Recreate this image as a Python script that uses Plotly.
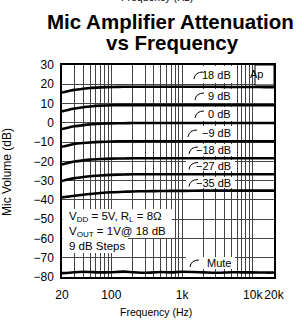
import plotly.graph_objects as go

freq = [20, 25, 30, 40, 50, 70, 100, 150, 200, 300, 500, 700, 1000, 2000, 3000, 5000, 7000, 10000, 15000, 20000]
gain_p18 = [15.7, 16.5, 17.1, 17.7, 18.1, 18.4, 18.6, 18.7, 18.7, 18.7, 18.7, 18.7, 18.7, 18.7, 18.7, 18.6, 18.6, 18.6, 18.5, 18.5]
gain_p9 = [5.9, 6.8, 7.4, 8.1, 8.5, 8.9, 9.1, 9.2, 9.2, 9.2, 9.2, 9.2, 9.2, 9.2, 9.2, 9.2, 9.2, 9.1, 9.1, 9.1]
gain_0 = [-3.2, -2.4, -1.8, -1.2, -0.8, -0.5, -0.3, -0.2, -0.1, -0.1, -0.1, -0.1, -0.1, -0.1, -0.1, -0.1, -0.1, -0.1, -0.1, -0.1]
gain_m9 = [-12.4, -11.6, -11.0, -10.5, -10.2, -9.9, -9.7, -9.6, -9.6, -9.6, -9.6, -9.6, -9.6, -9.6, -9.6, -9.6, -9.6, -9.6, -9.6, -9.6]
gain_m18 = [-21.6, -20.7, -20.1, -19.5, -19.1, -18.8, -18.6, -18.5, -18.4, -18.4, -18.4, -18.4, -18.4, -18.4, -18.4, -18.4, -18.4, -18.4, -18.4, -18.4]
gain_m27 = [-30.2, -29.3, -28.7, -28.1, -27.7, -27.3, -27.0, -26.8, -26.7, -26.7, -26.7, -26.7, -26.7, -26.7, -26.7, -26.7, -26.7, -26.7, -26.7, -26.7]
gain_m35 = [-38.7, -38.2, -37.8, -37.3, -36.9, -36.4, -36.0, -35.8, -35.6, -35.5, -35.4, -35.3, -35.3, -35.2, -35.2, -35.2, -35.2, -35.2, -35.2, -35.2]
gain_mute = [-78.0, -77.8, -77.5, -77.3, -77.4, -77.6, -77.5, -77.2, -77.5, -77.8, -77.4, -77.6, -77.3, -77.6, -77.8, -77.5, -77.6, -77.6, -77.7, -77.7]

series = [gain_p18, gain_p9, gain_0, gain_m9, gain_m18, gain_m27, gain_m35, gain_mute]
curve_labels = ["18 dB", "9 dB", "0 dB", "\u22129 dB", "\u221218 dB", "\u221227 dB", "\u221235 dB", "Mute"]

x_grid = [20, 30, 40, 50, 60, 70, 80, 90, 100, 200, 300, 400, 500, 600, 700, 800, 900,
          1000, 2000, 3000, 4000, 5000, 6000, 7000, 8000, 9000, 10000, 20000]
x_labels = {20: "20", 100: "100", 1000: "1k", 10000: "10k", 20000: "20k"}
y_ticks = [30, 20, 10, 0, -10, -20, -30, -40, -50, -60, -70, -80]

W, H = 304, 323
L, R, T, B = 62, 274, 65, 277


def px(x):
    return (x - L) / (R - L)


def py(y):
    return (B - y) / (B - T)


fig = go.Figure()
for vals in series:
    fig.add_trace(go.Scatter(x=freq, y=vals, mode="lines",
                             line=dict(color="black", width=2.6, shape="spline", smoothing=0.6),
                             hoverinfo="skip", showlegend=False))

FONT = "Liberation Sans, Arial, sans-serif"
shapes = []
annotations = []

# label boxes: (top, bottom, text center y, hook x)
boxes = [(66, 83, 75, 194), (89, 103, 96, 195), (107, 121, 114, 195), (126, 140, 133, 188),
         (144, 156, 150, 189), (160, 171, 165.5, 189), (177, 188, 182.5, 189), (257, 269, 263, 190)]
for (top, bot, cy, hx), lab in zip(boxes, curve_labels):
    shapes.append(dict(type="rect", xref="paper", yref="paper", x0=px(186), x1=px(235),
                       y0=py(bot), y1=py(top), fillcolor="white", line=dict(width=0), layer="above"))
for (top, bot, cy, hx), lab in zip(boxes, curve_labels):
    path = "M %.4f,%.4f Q %.4f,%.4f %.4f,%.4f" % (px(hx), py(cy + 4), px(hx + 1), py(cy - 3), px(hx + 9), py(cy - 3))
    shapes.append(dict(type="path", xref="paper", yref="paper", path=path,
                       line=dict(color="black", width=1), layer="above"))
    annotations.append(dict(xref="paper", yref="paper", x=px(233), y=py(cy), xanchor="right",
                            yanchor="middle", text=lab, showarrow=False,
                            font=dict(family=FONT, size=11, color="black")))

# Ap box
shapes.append(dict(type="rect", xref="paper", yref="paper", x0=px(255), x1=px(274), y0=py(85), y1=py(65),
                   fillcolor="white", line=dict(color="black", width=1), layer="above"))
annotations.append(dict(xref="paper", yref="paper", x=px(265), y=py(74), text="Ap", showarrow=False,
                        yanchor="middle", font=dict(family=FONT, size=11, color="black")))

# conditions box
shapes.append(dict(type="rect", xref="paper", yref="paper", x0=px(62.5), x1=px(172), y0=py(238), y1=py(209),
                   fillcolor="white", line=dict(width=0), layer="above"))
shapes.append(dict(type="rect", xref="paper", yref="paper", x0=px(62.5), x1=px(128), y0=py(253), y1=py(237),
                   fillcolor="white", line=dict(width=0), layer="above"))
cond_text = "V<sub>DD</sub> = 5V, R<sub>L</sub> = 8\u03a9<br>V<sub>OUT</sub> = 1V@ 18 dB<br>9 dB Steps"
annotations.append(dict(xref="paper", yref="paper", x=px(67), y=py(231), xanchor="left", yanchor="middle",
                        align="left", text=cond_text, showarrow=False,
                        font=dict(family=FONT, size=11.5, color="black")))

# titles
annotations.append(dict(xref="paper", yref="paper", x=px(170), y=py(21.5), text="<b>Mic Amplifier Attenuation</b>",
                        showarrow=False, yanchor="middle", font=dict(family=FONT, size=20.5, color="black")))
annotations.append(dict(xref="paper", yref="paper", x=px(172), y=py(43), text="<b>vs Frequency</b>",
                        showarrow=False, yanchor="middle", font=dict(family=FONT, size=20.5, color="black")))
annotations.append(dict(xref="paper", yref="paper", x=px(157), y=py(-3), text="Frequency (Hz)",
                        showarrow=False, yanchor="middle", font=dict(family=FONT, size=10.5, color="black")))
annotations.append(dict(xref="paper", yref="paper", x=px(156), y=py(312), text="Frequency (Hz)",
                        showarrow=False, yanchor="middle", font=dict(family=FONT, size=10.5, color="black")))
annotations.append(dict(xref="paper", yref="paper", x=px(7), y=py(172), text="Mic Volume (dB)", textangle=-90,
                        showarrow=False, xanchor="center", yanchor="middle",
                        font=dict(family=FONT, size=12, color="black")))

fig.update_layout(
    width=W, height=H, margin=dict(l=L, r=W - R, t=T, b=H - B, autoexpand=False),
    paper_bgcolor="white", plot_bgcolor="white",
    shapes=shapes, annotations=annotations, showlegend=False,
    xaxis=dict(type="log", range=[1.30103, 4.30103], tickvals=x_grid, tickangle=0, automargin=False,
               ticktext=[x_labels.get(v, "") for v in x_grid], showgrid=True, gridcolor="#444", gridwidth=1,
               showline=True, linecolor="black", linewidth=1.5, mirror=True, ticks="", zeroline=False,
               ticklabelstandoff=6, tickfont=dict(family=FONT, size=12, color="black")),
    yaxis=dict(range=[-80, 30], tickvals=y_ticks, showgrid=True, gridcolor="#444", gridwidth=1, automargin=False,
               showline=True, linecolor="black", linewidth=1.5, mirror=True, ticks="", zeroline=False,
               ticklabelstandoff=4, tickfont=dict(family=FONT, size=12, color="black")),
)

fig.write_html("out.html", config={"displayModeBar": False},
               post_script="document.body.style.margin='0';document.body.style.overflow='hidden';")
